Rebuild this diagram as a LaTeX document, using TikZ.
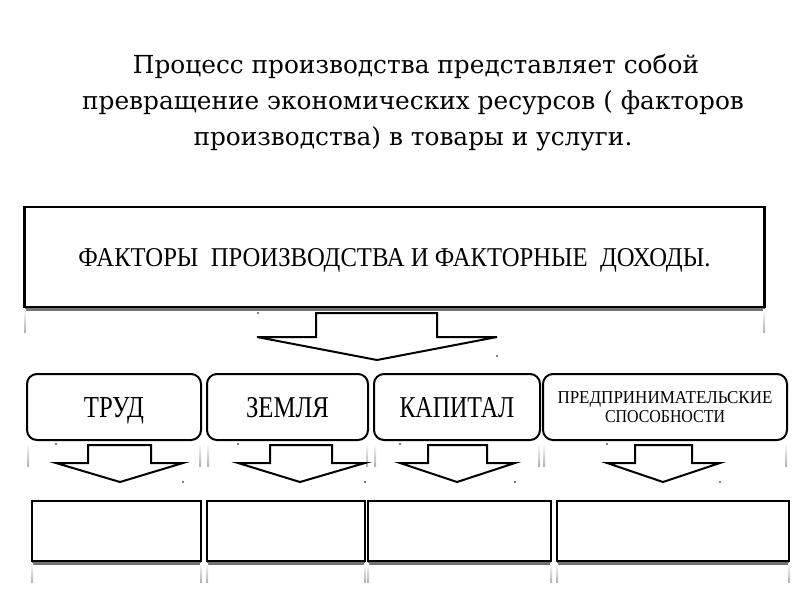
\documentclass[tikz,border=0pt]{standalone}
\usepackage{fontspec}
\setmainfont{Liberation Serif}
\newfontfamily\titlefont{DejaVu Serif}
\begin{document}
\begin{tikzpicture}[x=1pt,y=-1pt,
  bigbox/.style={draw, line width=2.4pt, minimum width=740pt, minimum height=100pt, inner sep=0pt, text height=18pt, text depth=0pt},
  rbox/.style={draw, line width=2pt, rounded corners=10pt, minimum height=66pt, inner sep=0pt},
  lbl/.style={text height=20pt, text depth=0pt},
  ebox/.style={draw, line width=2.4pt, minimum height=60pt, inner sep=0pt},
  barrow/.style={draw, line width=2pt, line join=miter, fill=white},
  speck/.style={fill=black},
  shadowline/.style={fill=black!55},
  refl/.style={top color=white, bottom color=black!30},
  titletext/.style={anchor=base, inner sep=0pt, font=\titlefont\fontsize{24.8}{34}\selectfont},
]
\useasboundingbox (0,0) rectangle (800,600);
\fill[white] (0,0) rectangle (800,600);

% title
\node[titletext] (t1) at (416,73) {Процесс производства представляет собой};
\node[titletext] (t2) at (413,109) {превращение экономических ресурсов ( факторов};
\node[titletext] (t3) at (413,145) {производства) в товары и услуги.};

% big box with shadow and reflection
\fill[shadowline] (25,307) rectangle (765,310.5);
\shade[refl] (24,309) rectangle (26,332);
\shade[refl] (763,309) rectangle (765,332);
\node[bigbox] (top) at (394.5,257) {\resizebox{632pt}{18pt}{ФАКТОРЫ\ \ ПРОИЗВОДСТВА И ФАКТОРНЫЕ\ \ ДОХОДЫ.}};

% big block arrow
\draw[barrow] (316,313) -- (437,313) -- (437,337) -- (497,337) -- (377,360) -- (257,337) -- (316,337) -- cycle;
\fill[speck] (258,313) circle (0.9);
\fill[speck] (497,356) circle (0.9);

% reflections under rounded boxes
\foreach \a/\b in {27/201, 207/368, 374/540, 543/787}{
  \shade[refl] (\a,443) rectangle (\a+2,466);
  \shade[refl] (\b-2,443) rectangle (\b,466);
}

% rounded boxes
\node[rbox, lbl, minimum width=174pt] (trud) at (114,407) {\resizebox{60pt}{20pt}{ТРУД}};
\node[rbox, lbl, minimum width=161pt] (zemlya) at (287.5,407) {\resizebox{83pt}{20pt}{ЗЕМЛЯ}};
\node[rbox, lbl, minimum width=166pt] (kapital) at (457,407) {\resizebox{115pt}{20pt}{КАПИТАЛ}};
\node[rbox, minimum width=244pt, align=center, font=\fontsize{10}{19}\selectfont] (pred) at (665,407)
  {\resizebox{215pt}{12pt}{ПРЕДПРИНИМАТЕЛЬСКИЕ}\\\resizebox{120pt}{12pt}{СПОСОБНОСТИ}};

% small block arrows
\foreach \sl/\sr/\hl/\hr/\tip in {88/151/56/183/120, 270/332/238/365/300, 428/487/400/515/457, 635/692/607/720/663}{
  \draw[barrow] (\sl,445) -- (\sr,445) -- (\sr,463) -- (\hr,463) -- (\tip,482) -- (\hl,463) -- (\sl,463) -- cycle;
  \fill[speck] (\hl,444) circle (0.9);
  \fill[speck] (\hr,482) circle (0.9);
}

% bottom empty boxes with shadow and reflection
\foreach \a/\b in {32/201, 207/365, 368/551, 557/789}{
  \fill[shadowline] (\a,561) rectangle (\b,564.5);
  \shade[refl] (\a-1,563) rectangle (\a+1,582);
  \shade[refl] (\b-1,563) rectangle (\b+1,582);
}
\node[ebox, minimum width=169pt] (e1) at (116.5,531) {};
\node[ebox, minimum width=158pt] (e2) at (286,531) {};
\node[ebox, minimum width=183pt] (e3) at (459.5,531) {};
\node[ebox, minimum width=232pt] (e4) at (673,531) {};
\end{tikzpicture}
\end{document}
